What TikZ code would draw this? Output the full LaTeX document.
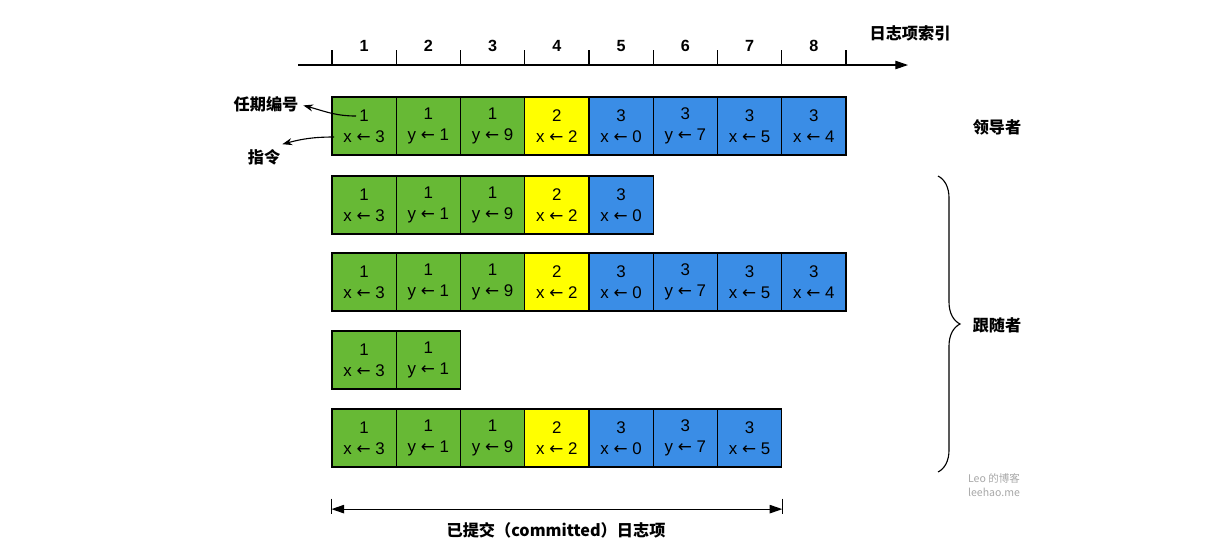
\documentclass[tikz,border=0pt]{standalone}
\usepackage{fontspec}
\setmainfont{Liberation Sans}
\newfontfamily\cjk{Noto Sans CJK SC}
\newfontfamily\arrowfont{DejaVu Sans}
\usetikzlibrary{arrows.meta,decorations.pathreplacing}

\definecolor{term1}{HTML}{67B935}
\definecolor{term2}{HTML}{FFFF00}
\definecolor{term3}{HTML}{3A8DE6}
\definecolor{markgray}{HTML}{A8A8A8}

\newcommand{\assign}{{\arrowfont\fontsize{12}{12}\selectfont ←}}

\begin{document}
\begin{tikzpicture}[
    x=0.025cm, y=-0.025cm,
    entry/.style={draw, line width=0.8pt, minimum width=1.606cm, minimum height=1.45cm,
        inner sep=0pt, align=center, font=\fontsize{12}{15}\selectfont},
    idxlabel/.style={font=\bfseries\fontsize{11.5}{13}\selectfont},
    cnlabel/.style={font=\cjk\bfseries\fontsize{11.5}{13}\selectfont},
    myarrow/.style={-{Stealth[length=7pt,width=5pt]}, line width=0.8pt}
]
    \useasboundingbox (0,0) rectangle (1221,549);

    % Axis
    \coordinate (axstart) at (298,65);
    \coordinate (axend) at (908,65);
    \draw[-{Triangle[length=9pt,width=6pt]}, line width=0.8pt] (axstart) -- (axend);
    \foreach \k in {0,...,8}
        \draw[line width=0.8pt] ({332+64.25*\k},50) -- ({332+64.25*\k},65);
    \foreach \k in {1,...,8}
        \node[idxlabel] (idx\k) at ({332+64.25*(\k-0.5)},46) {\k};
    \node[cnlabel] (idxname) at (910,33) {日志项索引};

    % Logs: leader and followers
    \foreach \row/\ypos/\len in {l/126/8, fa/205/5, fb/282/8, fc/360/2, fd/438/7} {
        \foreach \term/\lhs/\rhs [count=\k] in {1/x/3, 1/y/1, 1/y/9, 2/x/2,
                                               3/x/0, 3/y/7, 3/x/5, 3/x/4} {
            \ifnum\k>\len\relax\else
                \node[entry, fill=term\term] (\row\k) at ({332+64.25*(\k-0.5)},\ypos)
                    {\term\\\lhs\ \assign\ \rhs};
            \fi
        }
    }

    % Term and command labels
    \node[cnlabel] (termlabel) at (266,104) {任期编号};
    \node[cnlabel] (cmdlabel) at (264,157) {指令};
    \coordinate (termfrom) at (356,116);
    \coordinate (cmdfrom) at (334,137);
    \draw[myarrow] (termfrom) to[out=180, in=-15] ([yshift=-1pt]termlabel.east);
    \draw[myarrow] (cmdfrom) to[out=180, in=15] ([xshift=-2pt]cmdlabel.north east);

    % Roles
    \node[cnlabel] (leader) at (997,127) {领导者};
    \draw[decorate, decoration={brace, amplitude=0.55cm}, line width=0.8pt]
        (938,176) -- (938,472);
    \node[cnlabel] (follower) at (997,325) {跟随者};

    % Committed range
    \path (fd1.south west) ++(0,31) coordinate (cbl);
    \path (fd7.south east) ++(0,31) coordinate (cbr);
    \draw[line width=0.8pt] (cbl) -- ++(0,15);
    \draw[line width=0.8pt] (cbr) -- ++(0,15);
    \draw[{Triangle[length=9pt,width=6pt]}-{Triangle[length=9pt,width=6pt]}, line width=0.8pt]
        ([yshift=-7.5]cbl) -- ([yshift=-7.5]cbr);
    \node[cnlabel] (committed) at (556,530) {已提交（committed）日志项};

    % Watermark
    \node[font=\cjk\fontsize{7.5}{10}\selectfont, text=markgray, align=center] (mark) at (994,485)
        {Leo 的博客\\leehao.me};
\end{tikzpicture}
\end{document}
